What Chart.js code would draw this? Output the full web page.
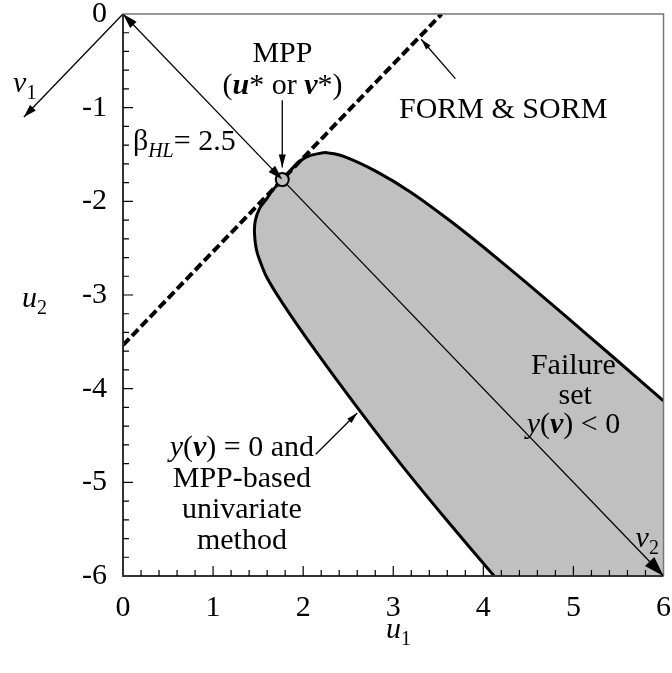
<!DOCTYPE html>
<html>
<head>
<meta charset="utf-8">
<script src="https://cdn.jsdelivr.net/npm/chart.js@4.4.1/dist/chart.umd.min.js"></script>
<style>
  html, body { margin: 0; padding: 0; background: #fff; }
  #wrap { width: 672px; height: 673px; }
</style>
</head>
<body>
<div id="wrap"><canvas id="chart"></canvas></div>
<script>
// axis ticks
const xTicks = [0, 1, 2, 3, 4, 5, 6];
const yTicks = [-6, -5, -4, -3, -2, -1, 0];

// limit state y(v) = 0, from the bottom edge, round the MPP, out to the right edge
const limitU1 = [4.12, 3.59, 3.08, 2.60, 2.14, 1.78, 1.59, 1.49, 1.46, 1.47, 1.52, 1.59, 1.66, 1.77, 1.84, 1.95, 2.08, 2.26, 2.45, 2.81, 3.19, 3.62, 4.04, 4.48, 4.93, 5.45, 6.00];
const limitU2 = [-6.00, -5.40, -4.80, -4.20, -3.60, -3.10, -2.80, -2.55, -2.35, -2.20, -2.07, -1.98, -1.88, -1.77, -1.69, -1.58, -1.51, -1.48, -1.52, -1.68, -1.90, -2.20, -2.52, -2.87, -3.24, -3.67, -4.13];
// corner that closes the failure set
const cornerU1 = [6];
const cornerU2 = [-6];

// FORM/SORM tangent plane and the MPP
const formU1 = [0, 3.536];
const formU2 = [-3.536, 0];
const mppU1 = [1.768];
const mppU2 = [-1.768];

// arrows
const betaU1 = [0, 1.768];
const betaU2 = [0, -1.768];
const v2U1 = [1.768, 6];
const v2U2 = [-1.768, -6];
const v1U1 = [0, -1.1];
const v1U2 = [0, -1.1];
const mppLeadU1 = [1.768, 1.768];
const mppLeadU2 = [-0.92, -1.64];
const formLeadU1 = [3.69, 3.31];
const formLeadU2 = [-0.69, -0.27];
const limitLeadU1 = [2.14, 2.60];
const limitLeadU2 = [-4.70, -4.26];

const FONT = "'Liberation Serif', 'Times New Roman', serif";

function pts(us, vs) {
  return us.map((u, i) => ({ x: u, y: vs[i] }));
}

function arrow(us, vs, head, extra) {
  return Object.assign({
    data: pts(us, vs),
    showLine: true,
    borderColor: '#000',
    borderWidth: 1.3,
    pointRadius: 0,
    fill: false,
    head: head,
    order: 2
  }, extra || {});
}

const regionU1 = limitU1.concat(cornerU1, limitU1.slice(0, 1));
const regionU2 = limitU2.concat(cornerU2, limitU2.slice(0, 1));

const datasets = [
  { // MPP marker
    data: pts(mppU1, mppU2),
    pointRadius: 6.5,
    pointBackgroundColor: '#c0c0c0',
    pointBorderColor: '#000',
    pointBorderWidth: 2,
    order: 0
  },
  arrow(betaU1, betaU2, { start: true, end: true, len: 15, w: 4.5 }),
  arrow(v2U1, v2U2, { end: true, len: 20, w: 6.5 }),
  arrow(v1U1, v1U2, { end: true, len: 13, w: 4 }, { clip: false }),
  arrow(mppLeadU1, mppLeadU2, { end: true, len: 13, w: 3.5 }),
  arrow(formLeadU1, formLeadU2, { end: true, len: 11, w: 3 }),
  arrow(limitLeadU1, limitLeadU2, { end: true, len: 11, w: 3 }),
  { // tangent line
    data: pts(formU1, formU2),
    showLine: true,
    borderColor: '#000',
    borderWidth: 4,
    borderDash: [9, 4],
    pointRadius: 0,
    order: 3
  },
  { // limit state
    data: pts(limitU1, limitU2),
    showLine: true,
    borderColor: '#000',
    borderWidth: 3,
    tension: 0.2,
    pointRadius: 0,
    order: 1
  },
  { // failure set
    data: pts(regionU1, regionU2),
    showLine: true,
    borderWidth: 0,
    borderColor: 'rgba(0,0,0,0)',
    backgroundColor: '#c0c0c0',
    fill: 'shape',
    pointRadius: 0,
    order: 5
  }
];

// text annotations, placed in data units
// run styles: '' normal, 'i' italic, 'bi' bold italic, 's' subscript, 'is' italic subscript
const notes = [
  { u: 1.77, v: -0.41, runs: [['MPP', '']] },
  { u: 1.77, v: -0.75, runs: [['(', ''], ['u', 'bi'], ['* or ', ''], ['v', 'bi'], ['*)', '']] },
  { u: 4.22, v: -1.00, runs: [['FORM & SORM', '']] },
  { u: 0.11, v: -1.34, align: 'left', runs: [['\u03b2', ''], ['HL', 'is'], ['= 2.5', '']] },
  { u: 1.32, v: -4.61, runs: [['y', 'i'], ['(', ''], ['v', 'bi'], [') = 0 and', '']] },
  { u: 1.32, v: -4.94, runs: [['MPP-based', '']] },
  { u: 1.32, v: -5.27, runs: [['univariate', '']] },
  { u: 1.32, v: -5.60, runs: [['method', '']] },
  { u: 5.00, v: -3.74, runs: [['Failure', '']] },
  { u: 5.02, v: -4.06, runs: [['set', '']] },
  { u: 5.00, v: -4.37, runs: [['y', 'i'], ['(', ''], ['v', 'bi'], [') < 0', '']] },
  { u: 5.69, v: -5.58, align: 'left', runs: [['v', 'i'], ['2', 's']] },
  { u: -1.22, v: -0.73, align: 'left', runs: [['v', 'i'], ['1', 's']] }
];

function runFont(style) {
  const size = style.includes('s') ? 20 : 30;
  let f = '';
  if (style.includes('i')) f += 'italic ';
  if (style.includes('b')) f += 'bold ';
  return f + size + 'px ' + FONT;
}

function drawRuns(ctx, runs, x, y, align) {
  let total = 0;
  const widths = runs.map(r => {
    ctx.font = runFont(r[1]);
    const w = ctx.measureText(r[0]).width;
    total += w;
    return w;
  });
  let cx = align === 'left' ? x : x - total / 2;
  ctx.textAlign = 'left';
  ctx.textBaseline = 'alphabetic';
  runs.forEach((r, i) => {
    ctx.font = runFont(r[1]);
    const dy = r[1].includes('s') ? 7 : 0;
    ctx.fillText(r[0], cx, y + 10 + dy);
    cx += widths[i];
  });
}

function drawHead(ctx, a, b, len, w) {
  const ang = Math.atan2(b.y - a.y, b.x - a.x);
  ctx.save();
  ctx.translate(b.x, b.y);
  ctx.rotate(ang);
  ctx.beginPath();
  ctx.moveTo(0, 0);
  ctx.lineTo(-len, -w);
  ctx.lineTo(-len, w);
  ctx.closePath();
  ctx.fillStyle = '#000';
  ctx.fill();
  ctx.restore();
}

const framePlugin = {
  id: 'frame',
  afterDatasetsDraw(chart) {
    const { ctx, chartArea: a, scales } = chart;
    ctx.save();
    ctx.strokeStyle = '#777';
    ctx.lineWidth = 1.5;
    ctx.beginPath();
    ctx.moveTo(a.left, a.top);
    ctx.lineTo(a.right, a.top);
    ctx.lineTo(a.right, a.bottom);
    ctx.stroke();
    ctx.strokeStyle = '#333';
    ctx.lineWidth = 2;
    ctx.beginPath();
    ctx.moveTo(a.left, a.top);
    ctx.lineTo(a.left, a.bottom);
    ctx.lineTo(a.right, a.bottom);
    ctx.stroke();
    // inward ticks every 0.2
    ctx.strokeStyle = '#000';
    ctx.lineWidth = 1.2;
    ctx.beginPath();
    for (let k = 1; k < 30; k++) {
      const len = k % 5 === 0 ? 10 : 6;
      const px = scales.x.getPixelForValue(k * 0.2);
      ctx.moveTo(px, a.bottom);
      ctx.lineTo(px, a.bottom - len);
      const py = scales.y.getPixelForValue(-6 + k * 0.2);
      ctx.moveTo(a.left, py);
      ctx.lineTo(a.left + len, py);
    }
    ctx.stroke();
    ctx.restore();
  }
};

const arrowPlugin = {
  id: 'arrows',
  afterDatasetsDraw(chart) {
    const ctx = chart.ctx;
    chart.data.datasets.forEach((ds, i) => {
      if (!ds.head) return;
      const p = chart.getDatasetMeta(i).data;
      const n = p.length;
      if (ds.head.end) drawHead(ctx, p[n - 2], p[n - 1], ds.head.len, ds.head.w);
      if (ds.head.start) drawHead(ctx, p[1], p[0], ds.head.len, ds.head.w);
    });
  }
};

const textPlugin = {
  id: 'notes',
  afterDraw(chart) {
    const { ctx, chartArea: a, scales } = chart;
    ctx.save();
    ctx.fillStyle = '#000';
    notes.forEach(n => {
      drawRuns(ctx, n.runs, scales.x.getPixelForValue(n.u), scales.y.getPixelForValue(n.v), n.align);
    });
    // axis titles
    drawRuns(ctx, [['u', 'i'], ['1', 's']], scales.x.getPixelForValue(2.92), a.bottom + 52, 'left');
    drawRuns(ctx, [['u', 'i'], ['2', 's']], 22, scales.y.getPixelForValue(-3.02), 'left');
    ctx.restore();
  }
};

// keep the tick labels from pushing the plot area in
function noOverhang(s) {
  s.paddingLeft = 0;
  s.paddingRight = 0;
  s.paddingTop = 0;
  s.paddingBottom = 0;
}

new Chart(document.getElementById('chart'), {
  type: 'scatter',
  data: { datasets: datasets },
  options: {
    responsive: true,
    maintainAspectRatio: false,
    animation: false,
    layout: { padding: { left: 0, right: 7, top: 14, bottom: 0 } },
    plugins: {
      legend: { display: false },
      tooltip: { enabled: false }
    },
    scales: {
      x: {
        type: 'linear',
        min: 0,
        max: 6,
        afterBuildTicks: s => { s.ticks = xTicks.map(v => ({ value: v })); },
        afterFit: s => { s.height = 97; noOverhang(s); },
        grid: { display: false, drawTicks: false },
        border: { display: false },
        ticks: { color: '#000', padding: 14, maxRotation: 0, font: { family: FONT, size: 30 } }
      },
      y: {
        type: 'linear',
        min: -6,
        max: 0,
        afterBuildTicks: s => { s.ticks = yTicks.map(v => ({ value: v })); },
        afterFit: s => { s.width = 123; noOverhang(s); },
        grid: { display: false, drawTicks: false },
        border: { display: false },
        ticks: { color: '#000', padding: 16, font: { family: FONT, size: 30 } }
      }
    }
  },
  plugins: [framePlugin, arrowPlugin, textPlugin]
});
</script>
</body>
</html>
